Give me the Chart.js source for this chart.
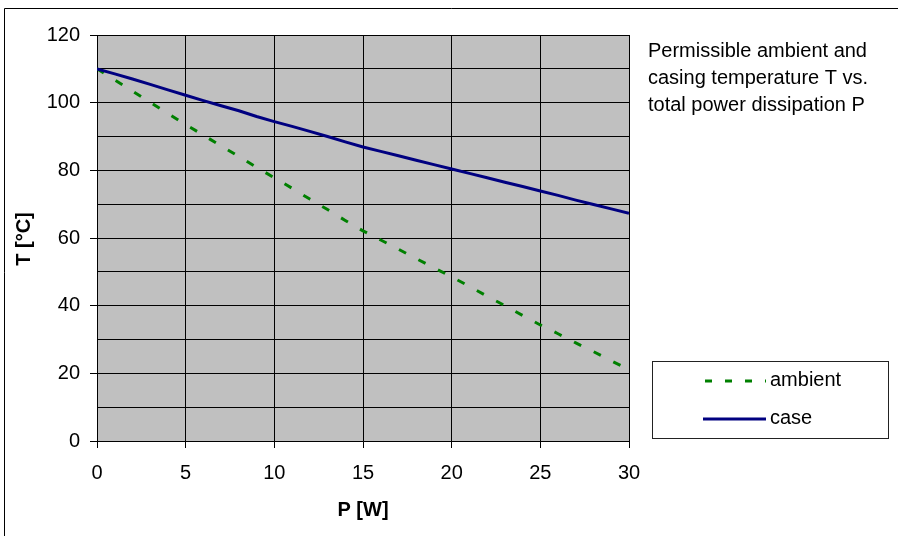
<!DOCTYPE html>
<html>
<head>
<meta charset="utf-8">
<script src="https://cdn.jsdelivr.net/npm/chart.js@4.4.1/dist/chart.umd.min.js"></script>
<style>
  html, body { margin: 0; padding: 0; background: #fff; }
  #wrap { width: 898px; height: 536px; position: relative; }
</style>
</head>
<body>
<div id="wrap"><canvas id="chart"></canvas></div>
<script>
// --- data ---
const powerW = [0, 1, 2, 3, 4, 5, 6, 7, 8, 9, 10, 11, 12, 13, 14, 15, 16, 17, 18, 19, 20, 21, 22, 23, 24, 25, 26, 27, 28, 29, 30];
const ambientT = [110, 106.7, 103.4, 100.1, 96.8, 93.5, 90.4, 87.2, 84.1, 80.9, 77.8, 74.7, 71.5, 68.4, 65.2, 62.1,
                  59.4, 56.7, 53.9, 51.2, 48.5, 45.7, 42.8, 40, 37.1, 34.3, 31.7, 29, 26.4, 23.7, 21.1];
const caseT = [110, 108.5, 107, 105.4, 103.8, 102.2, 100.6, 99.1, 97.6, 95.9, 94.4, 93, 91.5, 90, 88.4, 86.9,
               85.6, 84.3, 83, 81.7, 80.4, 79.1, 77.8, 76.5, 75.2, 73.9, 72.6, 71.2, 69.9, 68.6, 67.3];
const seriesNames = ['ambient', 'case'];
const noteLines = ['Permissible ambient and', 'casing temperature T vs.', 'total power dissipation P'];
const xTitle = 'P [W]';
const yTitle = 'T [°C]';

const FONT = "'Liberation Sans', Arial, sans-serif";
const green = '#008000';
const navy = '#000080';

const toPoints = arr => arr.map((v, i) => ({ x: powerW[i], y: v }));

// gray plot background, outer frame, note text, legend box, axis titles
const decor = {
    id: 'decor',
    beforeDraw(chart) {
        const { ctx, chartArea: a } = chart;
        ctx.save();
        ctx.fillStyle = '#fff';
        ctx.fillRect(0, 0, chart.width, chart.height);
        ctx.fillStyle = '#C0C0C0';
        ctx.fillRect(a.left, a.top, a.right - a.left, a.bottom - a.top);
        ctx.restore();
    },
    afterDraw(chart) {
        const ctx = chart.ctx;
        ctx.save();
        // outer frame (only top and left edges fall inside the picture)
        ctx.strokeStyle = '#000';
        ctx.lineWidth = 1;
        ctx.beginPath();
        ctx.moveTo(4.5, chart.height);
        ctx.lineTo(4.5, 8.5);
        ctx.lineTo(chart.width, 8.5);
        ctx.stroke();

        // note text
        ctx.fillStyle = '#000';
        ctx.font = '20px ' + FONT;
        ctx.textAlign = 'left';
        ctx.textBaseline = 'middle';
        noteLines.forEach((t, i) => ctx.fillText(t, 648, 51 + i * 27));

        // legend
        ctx.strokeStyle = '#222';
        ctx.strokeRect(652.5, 361.5, 236, 77);
        const rows = [380, 418];
        chart.data.datasets.forEach((ds, i) => {
            ctx.beginPath();
            ctx.strokeStyle = ds.borderColor;
            ctx.lineWidth = ds.borderWidth;
            ctx.setLineDash(ds.borderDash ? [7, 13] : []);
            ctx.moveTo(i === 0 ? 705 : 703, rows[i] + 1);
            ctx.lineTo(766, rows[i] + 1);
            ctx.stroke();
            ctx.setLineDash([]);
            ctx.fillText(ds.label, 770, rows[i]);
        });

        // axis titles
        ctx.font = 'bold 20px ' + FONT;
        ctx.textAlign = 'center';
        ctx.fillText(xTitle, 363, 510);
        ctx.translate(24, 239);
        ctx.rotate(-Math.PI / 2);
        ctx.fillText(yTitle, 0, 0);
        ctx.restore();
    }
};

const ctx = document.getElementById('chart').getContext('2d');
new Chart(ctx, {
    type: 'line',
    data: {
        datasets: [
            {
                label: seriesNames[0],
                data: toPoints(ambientT),
                borderColor: green,
                borderWidth: 3,
                borderDash: [8, 14],
                pointRadius: 0,
                tension: 0,
                fill: false,
                order: 1
            },
            {
                label: seriesNames[1],
                data: toPoints(caseT),
                borderColor: navy,
                borderWidth: 3,
                pointRadius: 0,
                tension: 0,
                fill: false,
                order: 0
            }
        ]
    },
    options: {
        responsive: true,
        maintainAspectRatio: false,
        animation: false,
        layout: { padding: { top: 35, right: 269, bottom: 0, left: 0 } },
        plugins: {
            legend: { display: false },
            tooltip: { enabled: false }
        },
        scales: {
            x: {
                type: 'linear',
                min: 0,
                max: 30,
                afterFit: s => { s.height = 95; },
                ticks: {
                    stepSize: 5,
                    color: '#000',
                    padding: 13,
                    maxRotation: 0,
                    font: { family: FONT, size: 20 }
                },
                grid: { color: '#000', lineWidth: 1, tickLength: 7, tickColor: '#000' },
                border: { color: '#000' }
            },
            y: {
                min: 0,
                max: 120,
                afterFit: s => { s.width = 97; },
                ticks: {
                    stepSize: 10,
                    color: '#000',
                    padding: 10,
                    font: { family: FONT, size: 20 },
                    callback: v => (v % 20 === 0 ? v : '')
                },
                grid: {
                    color: '#000',
                    lineWidth: 1,
                    tickLength: 7,
                    tickColor: c => (c.tick && c.tick.value % 20 === 0 ? '#000' : 'rgba(0,0,0,0)')
                },
                border: { color: '#000' }
            }
        }
    },
    plugins: [decor]
});
</script>
</body>
</html>
